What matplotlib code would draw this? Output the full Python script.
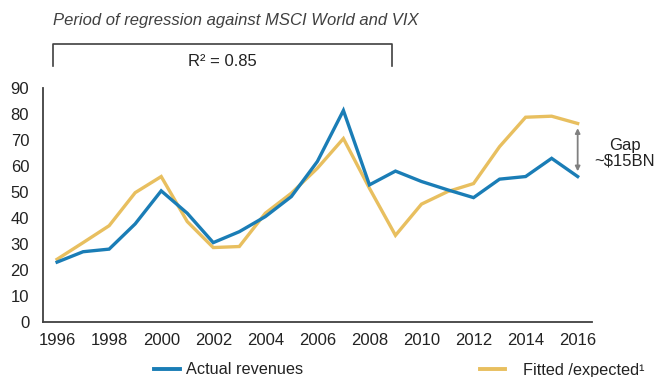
import matplotlib.pyplot as plt
from matplotlib.lines import Line2D

plt.rcParams['font.family'] = ['Liberation Sans', 'DejaVu Sans']

years = list(range(1996, 2017))
actual = [23, 27, 28, 37.7, 50.4, 41.8, 30.5, 34.7, 40.5, 48.2, 61.7,
          81.3, 52.7, 58, 54, 50.8, 47.8, 54.9, 55.9, 62.9, 55.9]
fitted = [24.1, 30.5, 37, 49.7, 55.9, 38.6, 28.6, 29, 41.8, 49.5, 59.1,
          70.5, 51.4, 33.3, 45.3, 50.1, 53.2, 67.4, 78.7, 79.1, 76.3]
xticks = list(range(1996, 2017, 2))
yticks = list(range(0, 91, 10))

blue = '#1a7db6'
gold = '#e8bf5f'
dark = '#404040'
txt = '#222222'

fig = plt.figure(figsize=(6.59, 3.77), dpi=100)
ax = fig.add_axes([0.0653, 0.146, 0.833, 0.621])

ax.plot(years, actual, color=blue, lw=2.4, solid_joinstyle='miter', zorder=3)
ax.plot(years, fitted, color=gold, lw=2.4, solid_joinstyle='miter', zorder=2)

ax.set_xlim(1995.46, 2016.55)
ax.set_ylim(0, 90)
ax.set_xticks(xticks)
ax.set_yticks(yticks)
ax.tick_params(length=0, labelsize=12, colors=txt)
ax.tick_params(axis='y', pad=10)
ax.tick_params(axis='x', pad=8)
for s in ['top', 'right']:
    ax.spines[s].set_visible(False)
for s in ['left', 'bottom']:
    ax.spines[s].set_color(dark)
    ax.spines[s].set_linewidth(1.3)

# gap between the two series in the last year
ax.annotate('', xy=(2016, fitted[-1] - 1.8), xytext=(2016, actual[-1] + 2),
            arrowprops=dict(arrowstyle='<|-|>', color='#808080', lw=1.3,
                            mutation_scale=7, shrinkA=0, shrinkB=0))
fig.text(625 / 659, 1 - 153 / 377, 'Gap\n~$15BN', ha='center', va='center',
         fontsize=12, color=txt, linespacing=1.05)

# regression period bracket
bx0, bx1 = 53 / 659, 392 / 659
by0, by1 = 1 - 66 / 377, 1 - 44 / 377
fig.add_artist(Line2D([bx0, bx0, bx1, bx1], [by0, by1, by1, by0],
                      color=dark, lw=1.2, transform=fig.transFigure))
fig.text((bx0 + bx1) / 2, 1 - 61 / 377, 'R² = 0.85', ha='center',
         va='center', fontsize=12, color=txt)
fig.text(53 / 659, 1 - 21 / 377, 'Period of regression against MSCI World and VIX',
         ha='left', va='center', fontsize=12, style='italic', color=dark)

# legend entries
ly = 1 - 369 / 377
fig.add_artist(Line2D([154 / 659, 180 / 659], [ly, ly], color=blue, lw=2.8,
                      transform=fig.transFigure))
fig.text(186 / 659, ly, 'Actual revenues', ha='left', va='center',
         fontsize=11.7, color=txt)
fig.add_artist(Line2D([480 / 659, 505 / 659], [ly, ly], color=gold, lw=2.8,
                      transform=fig.transFigure))
fig.text(523 / 659, 1 - 370 / 377, 'Fitted /expected¹', ha='left',
         va='center', fontsize=11.7, color=txt)

fig.savefig('out.png', dpi=100)
